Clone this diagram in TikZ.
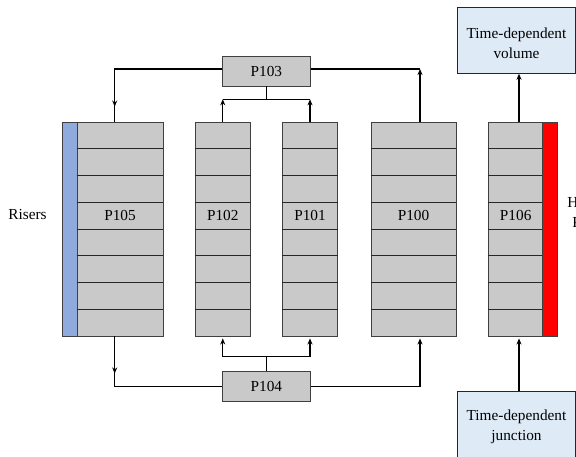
\documentclass[tikz,border=0pt]{standalone}
\usepackage{fontspec}
\setmainfont{Liberation Serif}
\usetikzlibrary{arrows.meta,calc,decorations.markings}
\definecolor{cellgray}{RGB}{201,201,201}
\definecolor{edgegray}{RGB}{64,64,64}
\definecolor{riserblue}{RGB}{143,170,220}
\definecolor{heatred}{RGB}{255,0,0}
\definecolor{tdvfill}{RGB}{222,235,247}

\begin{document}
\begin{tikzpicture}[x=1pt,y=-1pt,
  every node/.style={font=\fontsize{15.3}{20}\selectfont, inner sep=0pt},
  cell/.style={draw=edgegray, fill=cellgray, line width=0.9pt, minimum height=214pt},
  hub/.style={draw=edgegray, fill=cellgray, line width=0.9pt, minimum width=87.3pt, minimum height=30pt},
  riser/.style={draw=edgegray, fill=riserblue, line width=0.9pt, minimum height=214pt, minimum width=15pt},
  heater/.style={draw=edgegray, fill=heatred, line width=0.9pt, minimum height=214pt, minimum width=15pt},
  tdv/.style={draw=black!85, fill=tdvfill, line width=0.9pt, minimum width=118pt},
  rowline/.style={draw=black!85, line width=0.9pt},
  link/.style={draw=black, line width=1.2pt},
  tip/.style={-{Stealth[length=6pt,width=5pt]}},
  midtip/.style={postaction={decorate},
    decoration={markings, mark=at position #1 with {\arrow{Stealth[length=6pt,width=5pt]}}}},
]
\useasboundingbox (0,0) rectangle (576,456);
\clip (0,0) rectangle (576,456);

% pipe columns
\node[cell, minimum width=86pt]   (p105) at (120,229)    {};
\node[riser]                      (r105) at (69.5,229)   {};
\node[cell, minimum width=55.5pt] (p102) at (222.75,229) {};
\node[cell, minimum width=55.5pt] (p101) at (310,229)    {};
\node[cell, minimum width=85pt]   (p100) at (413.5,229)  {};
\node[cell, minimum width=54pt]   (p106) at (515,229)    {};
\node[heater]                     (h106) at (549.75,229) {};

% cell boundaries
\foreach \c in {p105,p102,p101,p100,p106}
  \foreach \i in {1,...,7}
    \draw[rowline] ($(\c.north west)!\i/8!(\c.south west)$) -- ($(\c.north east)!\i/8!(\c.south east)$);

% column names
\node (t105) at (120,215.6)    {P105};
\node (t102) at (222.75,215.6) {P102};
\node (t101) at (310,215.6)    {P101};
\node (t100) at (413.5,215.6)  {P100};
\node (t106) at (515.7,215.6)  {P106};

\node (risers) at (27.5,215) {Risers};
\node[align=center] (heat) at (589,214) {Heated\\Pipes};

% branches
\node[hub] (p103) at (266.4,71)    {P103};
\node[hub] (p104) at (266.4,386.7) {P104};

% boundary volumes
\node[tdv, minimum height=66pt] (vol)  at (516.5,40.3) {};
\node[align=center] (volt) at (516.5,43) {Time-dependent\\volume};
\node[tdv, minimum height=72pt] (junc) at (516.5,427) {};
\node[align=center] (junct) at (516.5,427) {Time-dependent\\junction};

% upper header
\coordinate (j3) at (266.4,99.3);
\coordinate (k100t) at (420,69);
\draw[link, midtip=-15pt] ([yshift=2pt]p103.west) -| ([xshift=-5.3pt]p105.north);
\draw[link] ([yshift=2pt]p103.east) -- (k100t);
\draw[link, tip] (k100t |- p100.north) -- (k100t);
\draw[link] (p103.south) -- (j3);
\draw[link] (p102.north |- j3) -- (p101.north |- j3);
\draw[link, tip] (p102.north) -- (p102.north |- j3);
\draw[link, tip] (p101.north) -- (p101.north |- j3);

% lower header
\coordinate (j4) at (266.4,356.7);
\coordinate (k100b) at (420,386.7);
\draw[link, midtip=37pt] ([xshift=-5.3pt]p105.south) |- (p104.west);
\draw[link] (p104.east) -- (k100b);
\draw[link, tip, shorten >=2pt] (k100b) -- (k100b |- p100.south);
\draw[link] (p104.north) -- (j4);
\draw[link] (p102.south |- j4) -- (p101.south |- j4);
\draw[link, tip, shorten >=2pt] (p102.south |- j4) -- (p102.south);
\draw[link, tip, shorten >=2pt] (p101.south |- j4) -- (p101.south);

% heated pipe boundaries
\draw[link, tip] ([xshift=4pt]p106.north) -- ([xshift=4pt]p106.north |- vol.south);
\draw[link, tip, shorten >=2pt] ([xshift=4pt]p106.south |- junc.north) -- ([xshift=4pt]p106.south);
\end{tikzpicture}
\end{document}
